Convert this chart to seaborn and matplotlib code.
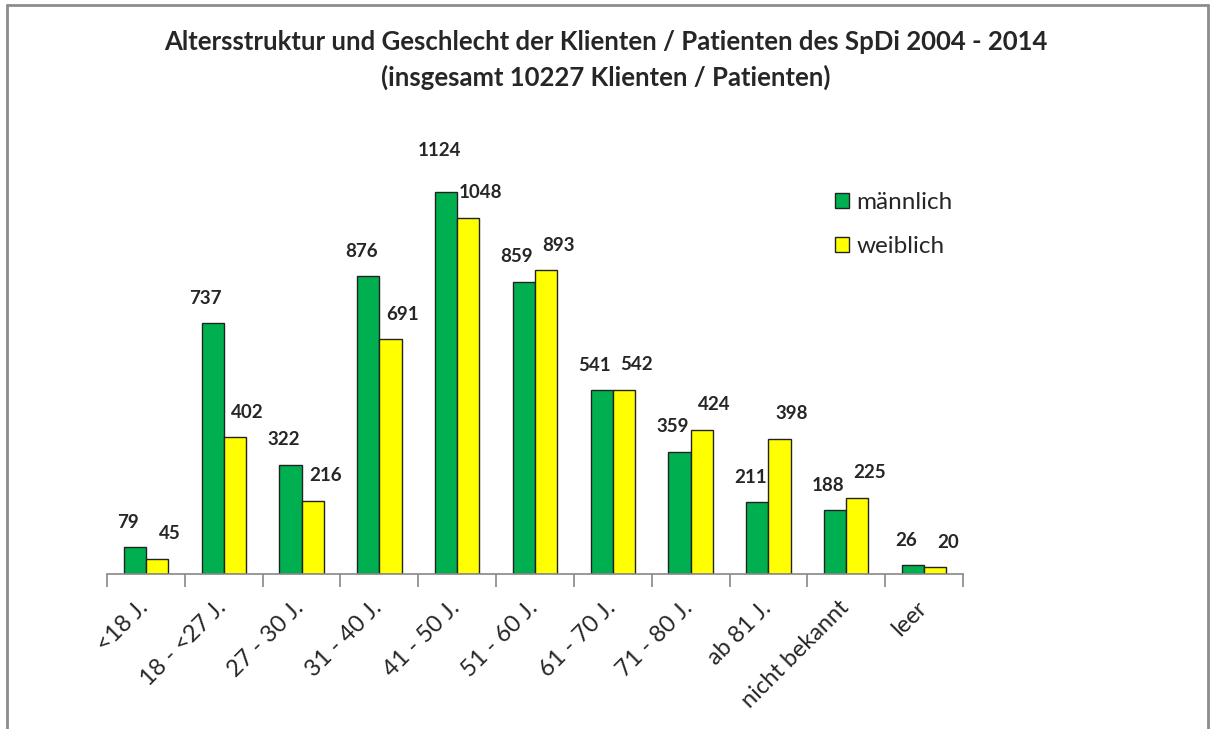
import matplotlib
matplotlib.use("Agg")
import matplotlib.pyplot as plt
from matplotlib.lines import Line2D
import matplotlib.transforms as mtransforms
import seaborn as sns
import pandas as pd

categories = ["<18 J.", "18 - <27 J.", "27 - 30 J.", "31 - 40 J.", "41 - 50 J.", "51 - 60 J.",
              "61 - 70 J.", "71 - 80 J.", "ab 81 J.", "nicht bekannt", "leer"]
maennlich = [79, 737, 322, 876, 1124, 859, 541, 359, 211, 188, 26]
weiblich = [45, 402, 216, 691, 1048, 893, 542, 424, 398, 225, 20]
series_names = ["männlich", "weiblich"]
colors = ["#00B050", "#FFFF00"]
title = ("Altersstruktur und Geschlecht der Klienten / Patienten des SpDi 2004 - 2014\n"
         "(insgesamt 10227 Klienten / Patienten)")

df = pd.DataFrame({
    "cat": categories * 2,
    "val": maennlich + weiblich,
    "sex": [series_names[0]] * len(categories) + [series_names[1]] * len(categories),
})

sns.set_theme(style="white")
plt.rcParams["font.family"] = ["Lato", "DejaVu Sans"]

fig = plt.figure(figsize=(12.12, 7.29), dpi=100)
W, H = 1212, 729
ax = fig.add_axes([107 / W, 1 - 574 / H, (963 - 107) / W, 442 / H])

sns.barplot(data=df, x="cat", y="val", hue="sex", palette=colors, width=0.57,
            edgecolor="#222222", linewidth=1.0, ax=ax, legend=True, saturation=1)

ax.set_ylim(0, 1300)
ax.set_xlim(-0.5, len(categories) - 0.5)
ax.set_xlabel("")
ax.set_ylabel("")
ax.set_yticks([])
for s in ["top", "right", "left"]:
    ax.spines[s].set_visible(False)
ax.spines["bottom"].set_color("#888888")
ax.spines["bottom"].set_linewidth(1.2)

ax.set_xticks(range(len(categories)))
ax.set_xticklabels(categories, rotation=45, ha="right", va="center",
                   rotation_mode="anchor", fontsize=17)
ax.tick_params(axis="x", which="major", length=0, pad=22)
shift = mtransforms.ScaledTranslation(-1 / 100, 0, fig.dpi_scale_trans)
for lbl in ax.get_xticklabels():
    lbl.set_transform(lbl.get_transform() + shift)
ax.set_xticks([i - 0.5 for i in range(len(categories) + 1)], minor=True)
ax.tick_params(axis="x", which="minor", length=9, width=1.2, color="#888888", bottom=True)

# value labels
dxs = [-5, 9]
for ci, cont in enumerate(ax.containers):
    for rect in cont:
        h = rect.get_height()
        x = rect.get_x() + rect.get_width() / 2
        off = 30 if h > 1100 else 18
        ax.annotate(f"{int(round(h))}", (x, h), xytext=(dxs[ci], off), textcoords="offset points",
                    ha="center", va="center", fontsize=13.5, fontweight="bold", clip_on=False)

leg = ax.legend(loc="upper left", bbox_to_anchor=(813 / W, 1 - 170 / H),
                bbox_transform=fig.transFigure, frameon=False, fontsize=17.5,
                handlelength=0.6, handleheight=0.6, handletextpad=0.3, labelspacing=0.95)

fig.suptitle(title, x=0.5, y=1 - 30 / H, fontsize=18.5, fontweight="bold", linespacing=1.5, va="top")

# outer border
col = "#8c8c8c"
fig.add_artist(Line2D([7 / W, 1208 / W], [1 - 5 / H, 1 - 5 / H], transform=fig.transFigure, color=col, lw=2))
fig.add_artist(Line2D([7 / W, 7 / W], [0, 1 - 5 / H], transform=fig.transFigure, color=col, lw=2))
fig.add_artist(Line2D([1208 / W, 1208 / W], [0, 1 - 5 / H], transform=fig.transFigure, color=col, lw=2))

fig.savefig("out.png", dpi=100)
